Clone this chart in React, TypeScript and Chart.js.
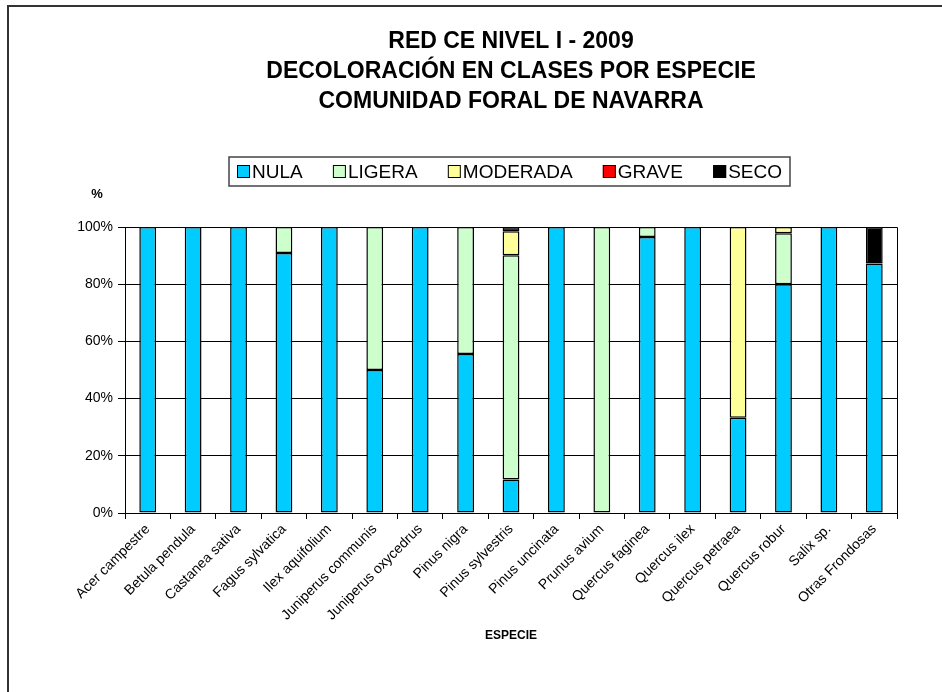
import { useEffect, useRef } from "react";
import { Chart, registerables } from "chart.js";

Chart.register(...registerables);

const FONT = "'Liberation Sans', Arial, sans-serif";

const categories = [
  "Acer campestre",
  "Betula pendula",
  "Castanea sativa",
  "Fagus sylvatica",
  "Ilex aquifolium",
  "Juniperus communis",
  "Juniperus oxycedrus",
  "Pinus nigra",
  "Pinus sylvestris",
  "Pinus uncinata",
  "Prunus avium",
  "Quercus faginea",
  "Quercus ilex",
  "Quercus petraea",
  "Quercus robur",
  "Salix sp.",
  "Otras Frondosas",
];

const nula = [100, 100, 100, 90.9, 100, 50, 100, 55.6, 11.7, 100, null, 96.5, 100, 33.3, 80, 100, 87.2];
const ligera = [null, null, null, 9.1, null, 50, null, 44.4, 78.4, null, 100, 3.5, null, null, 17.8, null, null];
const moderada = [null, null, null, null, null, null, null, null, 8.4, null, null, null, null, 66.7, 2.2, null, null];
const grave = [null, null, null, null, null, null, null, null, null, null, null, null, null, null, null, null, null];
const seco = [null, null, null, null, null, null, null, null, 1.5, null, null, null, null, null, null, null, 12.8];

const seriesNames = ["NULA", "LIGERA", "MODERADA", "GRAVE", "SECO"];
const seriesColors = ["#00CCFF", "#CCFFCC", "#FFFF99", "#FF0000", "#000000"];
const yTicks = [0, 20, 40, 60, 80, 100];

const titleLines = [
  "RED CE NIVEL I - 2009",
  "DECOLORACIÓN EN CLASES POR ESPECIE",
  "COMUNIDAD FORAL DE NAVARRA",
];

const decor = {
  id: "decor",
  beforeDraw(chart: any) {
    const ctx = chart.ctx;
    ctx.save();
    ctx.fillStyle = "#fff";
    ctx.fillRect(0, 0, chart.width, chart.height);
    ctx.strokeStyle = "#333";
    ctx.lineWidth = 2;
    ctx.beginPath();
    ctx.moveTo(8, chart.height + 4);
    ctx.lineTo(8, 6);
    ctx.lineTo(chart.width + 4, 6);
    ctx.stroke();
    ctx.restore();
  },
  afterDraw(chart: any) {
    const ctx = chart.ctx;
    const { left, right, top, bottom } = chart.chartArea;
    const cx = (left + right) / 2;
    ctx.save();
    // plot area border
    ctx.strokeStyle = "#000";
    ctx.lineWidth = 1;
    ctx.beginPath();
    ctx.moveTo(Math.round(left) + 0.5, Math.round(top) + 0.5);
    ctx.lineTo(Math.round(right) + 0.5, Math.round(top) + 0.5);
    ctx.lineTo(Math.round(right) + 0.5, Math.round(bottom) + 0.5);
    ctx.stroke();

    // title
    ctx.fillStyle = "#000";
    ctx.textAlign = "center";
    ctx.textBaseline = "middle";
    ctx.font = `bold 23px ${FONT}`;
    titleLines.forEach((t, i) => ctx.fillText(t, cx, 42 + i * 30));

    // legend
    const boxL = 229, boxR = 790, boxT = 157, boxB = 186;
    ctx.strokeStyle = "#444";
    ctx.lineWidth = 1.5;
    ctx.strokeRect(boxL, boxT, boxR - boxL, boxB - boxT);
    ctx.font = `19px ${FONT}`;
    ctx.textAlign = "left";
    const sq = 13, gapText = 2, pad = 8;
    const widths = seriesNames.map((n) => ctx.measureText(n).width);
    const itemsW = widths.reduce((a, w) => a + w + sq + gapText, 0);
    const gap = (boxR - boxL - 2 * pad - itemsW) / (seriesNames.length - 1);
    let x = boxL + pad;
    const my = (boxT + boxB) / 2;
    seriesNames.forEach((n, i) => {
      ctx.fillStyle = seriesColors[i];
      ctx.fillRect(x, my - sq / 2, sq, sq);
      ctx.strokeStyle = "#000";
      ctx.lineWidth = 1;
      ctx.strokeRect(x + 0.5, my - sq / 2 + 0.5, sq - 1, sq - 1);
      ctx.fillStyle = "#000";
      ctx.fillText(n, x + sq + gapText, my + 1);
      x += sq + gapText + widths[i] + gap;
    });

    // % label
    ctx.font = `bold 13px ${FONT}`;
    ctx.textAlign = "center";
    ctx.fillText("%", 97, 194);
    ctx.restore();
  },
};

export default function App() {
  const ref = useRef<HTMLCanvasElement>(null);
  useEffect(() => {
    document.body.style.margin = "0";
    const canvas = ref.current!;
    const datasets = seriesNames.map((name, i) => ({
      label: name,
      data: [nula, ligera, moderada, grave, seco][i],
      backgroundColor: seriesColors[i],
      borderColor: "#000",
      borderWidth: 1.5,
      borderSkipped: false as any,
      barPercentage: 0.37,
      categoryPercentage: 1,
    }));
    const chart = new Chart(canvas, {
      type: "bar",
      data: { labels: categories, datasets },
      plugins: [decor],
      options: {
        responsive: false,
        animation: false,
        layout: { padding: { left: 0, top: 227, right: 45, bottom: 45 } },
        plugins: {
          legend: { display: false },
          title: { display: false },
          tooltip: { enabled: false },
        },
        scales: {
          x: {
            stacked: true,
            afterFit: (s: any) => {
              s.height = 134;
            },
            grid: {
              display: true,
              drawOnChartArea: false,
              drawTicks: true,
              tickLength: 6,
              color: "#000",
              offset: true,
            },
            border: { display: true, color: "#000" },
            ticks: {
              autoSkip: false,
              maxRotation: 45,
              minRotation: 45,
              color: "#000",
              padding: 2,
              font: { family: FONT, size: 14 },
            },
            title: {
              display: true,
              text: "ESPECIE",
              color: "#000",
              font: { family: FONT, size: 12, weight: "bold" },
              padding: { top: 4, bottom: 4 },
            },
          },
          y: {
            stacked: true,
            min: 0,
            max: 100,
            afterFit: (s: any) => {
              s.width = 125;
            },
            afterBuildTicks: (s: any) => {
              s.ticks = yTicks.map((v) => ({ value: v }));
            },
            grid: { color: "#000", tickLength: 7, drawTicks: true },
            border: { display: true, color: "#000" },
            ticks: {
              color: "#000",
              padding: 5,
              font: { family: FONT, size: 14 },
              callback: (v: any) => `${v}%`,
            },
          },
        },
      },
    });
    return () => chart.destroy();
  }, []);
  return <canvas ref={ref} width={942} height={692} style={{ display: "block" }} />;
}
